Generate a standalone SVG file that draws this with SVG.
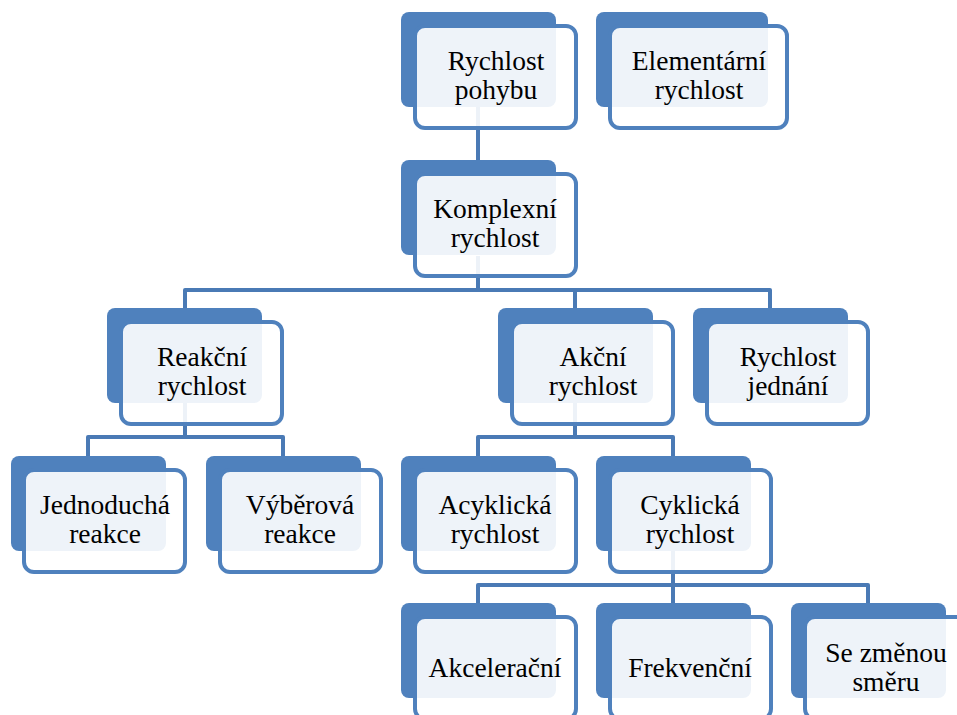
<svg xmlns="http://www.w3.org/2000/svg" width="957" height="715" viewBox="0 0 957 715">
<style>
.back{fill:#4F81BD}
.front{fill:#FFFFFF;fill-opacity:0.9;stroke:#4F81BD;stroke-width:4}
.conn{fill:none;stroke:#4A7AB5;stroke-width:4;stroke-linejoin:round}
.t{font-family:'Liberation Serif','Times New Roman','DejaVu Serif',serif;font-size:27.5px;fill:#000;text-anchor:middle}
</style>
<rect width="957" height="715" fill="#FFFFFF"/>
<g id="connectors">
<path class="conn" d="M478,107 V160"/>
<path class="conn" d="M478,256 V290 M185,308 V290 H770 V308 M575,290 V308"/>
<path class="conn" d="M185,403 V437 M88,456 V437 H283 V456"/>
<path class="conn" d="M575,403 V437 M478,456 V437 H673 V456"/>
<path class="conn" d="M673,551 V585 M478,603 V585 H868 V603 M673,585 V603"/>
</g>
<g id="n1"><rect class="back" x="401" y="12" width="155" height="95" rx="8"/><rect class="front" x="415" y="26" width="161" height="102" rx="10"/><text class="t" font-family="Liberation Serif, serif" x="496" y="70">Rychlost<tspan x="496" y="99">pohybu</tspan></text></g>
<g id="n2"><rect class="back" x="596" y="12" width="172" height="95" rx="8"/><rect class="front" x="610" y="26" width="177" height="102" rx="10"/><text class="t" font-family="Liberation Serif, serif" x="699" y="70">Elementární<tspan x="699" y="99">rychlost</tspan></text></g>
<g id="n3"><rect class="back" x="401" y="160" width="155" height="95" rx="8"/><rect class="front" x="415" y="174" width="161" height="102" rx="10"/><text class="t" font-family="Liberation Serif, serif" x="495" y="218">Komplexní<tspan x="495" y="247">rychlost</tspan></text></g>
<g id="n4"><rect class="back" x="107" y="308" width="155" height="95" rx="8"/><rect class="front" x="121" y="322" width="161" height="102" rx="10"/><text class="t" font-family="Liberation Serif, serif" x="202" y="366">Reakční<tspan x="202" y="395">rychlost</tspan></text></g>
<g id="n5"><rect class="back" x="498" y="308" width="155" height="95" rx="8"/><rect class="front" x="512" y="322" width="161" height="102" rx="10"/><text class="t" font-family="Liberation Serif, serif" x="593" y="366">Akční<tspan x="593" y="395">rychlost</tspan></text></g>
<g id="n6"><rect class="back" x="693" y="308" width="155" height="95" rx="8"/><rect class="front" x="707" y="322" width="161" height="102" rx="10"/><text class="t" font-family="Liberation Serif, serif" x="788" y="366">Rychlost<tspan x="788" y="395">jednání</tspan></text></g>
<g id="n7"><rect class="back" x="11" y="456" width="155" height="95" rx="8"/><rect class="front" x="24" y="470" width="161" height="102" rx="10"/><text class="t" font-family="Liberation Serif, serif" x="105" y="514">Jednoduchá<tspan x="105" y="543">reakce</tspan></text></g>
<g id="n8"><rect class="back" x="206" y="456" width="155" height="95" rx="8"/><rect class="front" x="220" y="470" width="161" height="102" rx="10"/><text class="t" font-family="Liberation Serif, serif" x="300" y="514">Výběrová<tspan x="300" y="543">reakce</tspan></text></g>
<g id="n9"><rect class="back" x="401" y="456" width="155" height="95" rx="8"/><rect class="front" x="415" y="470" width="161" height="102" rx="10"/><text class="t" font-family="Liberation Serif, serif" x="495" y="514">Acyklická<tspan x="495" y="543">rychlost</tspan></text></g>
<g id="n10"><rect class="back" x="596" y="456" width="155" height="95" rx="8"/><rect class="front" x="610" y="470" width="161" height="102" rx="10"/><text class="t" font-family="Liberation Serif, serif" x="690" y="514">Cyklická<tspan x="690" y="543">rychlost</tspan></text></g>
<g id="n11"><rect class="back" x="401" y="603" width="155" height="95" rx="8"/><rect class="front" x="415" y="617" width="161" height="102" rx="10"/><text class="t" font-family="Liberation Serif, serif" x="495" y="677">Akcelerační</text></g>
<g id="n12"><rect class="back" x="596" y="603" width="155" height="95" rx="8"/><rect class="front" x="610" y="617" width="161" height="102" rx="10"/><text class="t" font-family="Liberation Serif, serif" x="690" y="677">Frekvenční</text></g>
<g id="n13"><rect class="back" x="791" y="603" width="155" height="95" rx="8"/><rect class="front" x="805" y="617" width="161" height="102" rx="10"/><text class="t" font-family="Liberation Serif, serif" x="886" y="662">Se změnou<tspan x="886" y="691">směru</tspan></text></g>
</svg>
